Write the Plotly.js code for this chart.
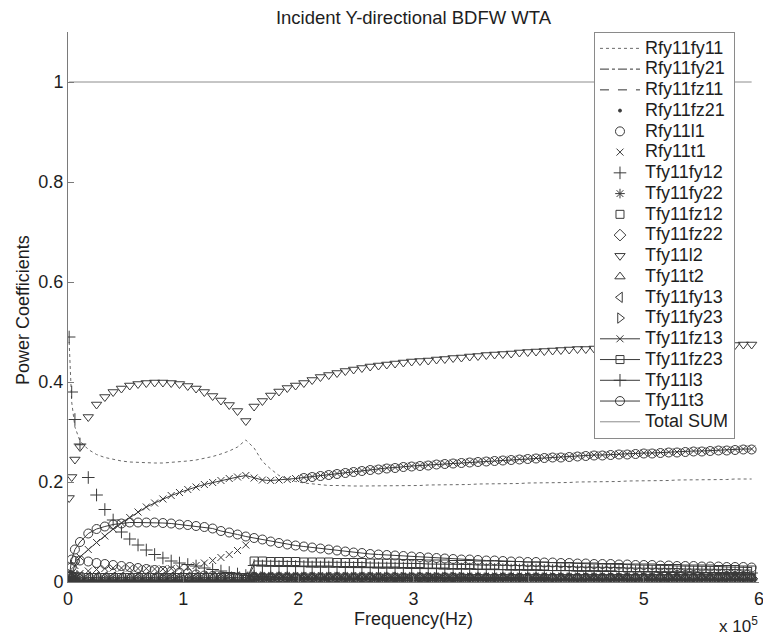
<!DOCTYPE html>
<html>
<head>
<meta charset="utf-8">
<script src="https://cdn.plot.ly/plotly-3.0.1.min.js"></script>
<style>
  html, body { margin: 0; padding: 0; background: #ffffff; }
  #chart { width: 763px; height: 639px; }
</style>
</head>
<body>
<div id="chart"></div>
<script>
// Frequency samples, in units of 10^5 Hz
const freq = [0.01, 0.032, 0.06, 0.104, 0.176, 0.248, 0.32, 0.392, 0.464, 0.536,
  0.608, 0.68, 0.752, 0.824, 0.896, 0.968, 1.04, 1.112, 1.184, 1.256,
  1.328, 1.4, 1.472, 1.544, 1.616, 1.688, 1.76, 1.832, 1.904, 1.976,
  2.048, 2.12, 2.192, 2.264, 2.336, 2.408, 2.48, 2.552, 2.624, 2.696,
  2.768, 2.84, 2.912, 2.984, 3.056, 3.128, 3.2, 3.272, 3.344, 3.416,
  3.488, 3.56, 3.632, 3.704, 3.776, 3.848, 3.92, 3.992, 4.064, 4.136,
  4.208, 4.28, 4.352, 4.424, 4.496, 4.568, 4.64, 4.712, 4.784, 4.856,
  4.928, 5.0, 5.072, 5.144, 5.216, 5.288, 5.36, 5.432, 5.504, 5.576,
  5.648, 5.72, 5.792, 5.864, 5.936];

const rfy11fy11 = [0.48, 0.36, 0.31, 0.282, 0.265, 0.255, 0.249, 0.245, 0.242, 0.240,
  0.239, 0.238, 0.238, 0.238, 0.239, 0.240, 0.242, 0.244, 0.247, 0.251,
  0.256, 0.262, 0.270, 0.284, 0.268, 0.241, 0.226, 0.213, 0.206, 0.201,
  0.198, 0.196, 0.194, 0.193, 0.193, 0.192, 0.192, 0.192, 0.192, 0.192,
  0.193, 0.193, 0.193, 0.193, 0.193, 0.194, 0.194, 0.194, 0.195, 0.195,
  0.195, 0.196, 0.196, 0.196, 0.197, 0.197, 0.197, 0.198, 0.198, 0.198,
  0.199, 0.199, 0.199, 0.200, 0.200, 0.200, 0.201, 0.201, 0.201, 0.202,
  0.202, 0.202, 0.203, 0.203, 0.203, 0.204, 0.204, 0.204, 0.204, 0.205,
  0.205, 0.205, 0.206, 0.206, 0.206];

const rfy11fy21 = [0, 0, 0, 0, 0, 0, 0, 0, 0, 0,
  0, 0, 0, 0, 0, 0, 0, 0, 0, 0,
  0, 0, 0, 0, 0.012, 0.011, 0.010, 0.010, 0.009, 0.009,
  0.009, 0.008, 0.008, 0.008, 0.008, 0.007, 0.007, 0.007, 0.007, 0.007,
  0.007, 0.006, 0.006, 0.006, 0.006, 0.006, 0.006, 0.006, 0.006, 0.006,
  0.005, 0.005, 0.005, 0.005, 0.005, 0.005, 0.005, 0.005, 0.005, 0.005,
  0.005, 0.005, 0.005, 0.005, 0.005, 0.005, 0.005, 0.005, 0.005, 0.005,
  0.005, 0.005, 0.004, 0.004, 0.004, 0.004, 0.004, 0.004, 0.004, 0.004,
  0.004, 0.004, 0.004, 0.004, 0.004];

const rfy11fz11 = [0.006, 0.005, 0.005, 0.004, 0.004, 0.004, 0.003, 0.003, 0.003, 0.003,
  0.003, 0.003, 0.003, 0.003, 0.003, 0.003, 0.003, 0.003, 0.003, 0.003,
  0.003, 0.003, 0.003, 0.004, 0.005, 0.005, 0.004, 0.004, 0.004, 0.004,
  0.004, 0.004, 0.004, 0.004, 0.004, 0.004, 0.004, 0.004, 0.004, 0.004,
  0.003, 0.003, 0.003, 0.003, 0.003, 0.003, 0.003, 0.003, 0.003, 0.003,
  0.003, 0.003, 0.003, 0.003, 0.003, 0.003, 0.003, 0.003, 0.003, 0.003,
  0.003, 0.003, 0.003, 0.003, 0.003, 0.003, 0.003, 0.003, 0.003, 0.003,
  0.003, 0.003, 0.003, 0.003, 0.003, 0.003, 0.003, 0.003, 0.003, 0.003,
  0.003, 0.003, 0.003, 0.003, 0.003];

const rfy11fz21 = [0, 0, 0, 0, 0, 0, 0, 0, 0, 0,
  0, 0, 0, 0, 0, 0, 0, 0, 0, 0,
  0, 0, 0, 0, 0.006, 0.006, 0.006, 0.006, 0.005, 0.005,
  0.005, 0.005, 0.005, 0.005, 0.005, 0.005, 0.005, 0.005, 0.005, 0.005,
  0.005, 0.005, 0.005, 0.005, 0.005, 0.005, 0.005, 0.005, 0.005, 0.005,
  0.004, 0.004, 0.004, 0.004, 0.004, 0.004, 0.004, 0.004, 0.004, 0.004,
  0.004, 0.004, 0.004, 0.004, 0.004, 0.004, 0.004, 0.004, 0.004, 0.004,
  0.004, 0.004, 0.004, 0.004, 0.004, 0.004, 0.004, 0.004, 0.004, 0.004,
  0.004, 0.004, 0.004, 0.004, 0.004];

const rfy11l1 = [0.010, 0.030, 0.042, 0.043, 0.041, 0.038, 0.036, 0.034, 0.032, 0.030,
  0.028, 0.026, 0.024, 0.022, 0.021, 0.019, 0.017, 0.015, 0.013, 0.012,
  0.011, 0.010, 0.009, 0.008, 0.010, 0.009, 0.009, 0.008, 0.008, 0.008,
  0.208, 0.210, 0.212, 0.214, 0.216, 0.218, 0.220, 0.222, 0.224, 0.225,
  0.227, 0.228, 0.230, 0.231, 0.232, 0.233, 0.235, 0.236, 0.237, 0.238,
  0.239, 0.240, 0.241, 0.242, 0.243, 0.244, 0.245, 0.246, 0.247, 0.248,
  0.249, 0.249, 0.250, 0.251, 0.252, 0.253, 0.253, 0.254, 0.255, 0.255,
  0.256, 0.257, 0.257, 0.258, 0.259, 0.259, 0.260, 0.261, 0.261, 0.262,
  0.263, 0.263, 0.264, 0.265, 0.265];

const rfy11t1 = [0.002, 0.008, 0.012, 0.017, 0.022, 0.025, 0.027, 0.028, 0.028, 0.028,
  0.027, 0.027, 0.026, 0.026, 0.027, 0.028, 0.030, 0.033, 0.038, 0.043,
  0.049, 0.055, 0.063, 0.074, 0.006, 0.005, 0.005, 0.004, 0.004, 0.004,
  0.004, 0.004, 0.004, 0.004, 0.004, 0.004, 0.004, 0.004, 0.004, 0.004,
  0.004, 0.004, 0.004, 0.004, 0.004, 0.004, 0.004, 0.004, 0.004, 0.004,
  0.003, 0.003, 0.003, 0.003, 0.003, 0.003, 0.003, 0.003, 0.003, 0.003,
  0.003, 0.003, 0.003, 0.003, 0.003, 0.003, 0.003, 0.003, 0.003, 0.003,
  0.003, 0.003, 0.003, 0.003, 0.003, 0.003, 0.003, 0.003, 0.003, 0.003,
  0.003, 0.003, 0.003, 0.003, 0.003];

const tfy11fy12 = [0.49, 0.38, 0.325, 0.276, 0.209, 0.174, 0.145, 0.124, 0.100, 0.086,
  0.074, 0.064, 0.055, 0.048, 0.042, 0.038, 0.035, 0.032, 0.028, 0.025,
  0.022, 0.019, 0.016, 0.013, 0.011, 0.010, 0.010, 0.009, 0.009, 0.009,
  0.008, 0.008, 0.008, 0.008, 0.008, 0.008, 0.008, 0.008, 0.008, 0.008,
  0.008, 0.008, 0.007, 0.007, 0.007, 0.007, 0.007, 0.007, 0.007, 0.007,
  0.007, 0.007, 0.007, 0.007, 0.007, 0.007, 0.007, 0.007, 0.007, 0.007,
  0.006, 0.006, 0.006, 0.006, 0.006, 0.006, 0.006, 0.006, 0.006, 0.006,
  0.006, 0.006, 0.006, 0.006, 0.006, 0.006, 0.006, 0.006, 0.006, 0.006,
  0.006, 0.006, 0.006, 0.006, 0.006];

const tfy11fy22 = [0, 0, 0, 0, 0, 0, 0, 0, 0, 0,
  0, 0, 0, 0, 0, 0, 0, 0, 0, 0,
  0, 0, 0, 0, 0.011, 0.011, 0.010, 0.010, 0.010, 0.010,
  0.010, 0.010, 0.010, 0.010, 0.010, 0.010, 0.010, 0.010, 0.010, 0.010,
  0.009, 0.009, 0.009, 0.009, 0.009, 0.009, 0.009, 0.009, 0.009, 0.009,
  0.009, 0.009, 0.009, 0.009, 0.009, 0.009, 0.009, 0.009, 0.009, 0.009,
  0.008, 0.008, 0.008, 0.008, 0.008, 0.008, 0.008, 0.008, 0.008, 0.008,
  0.008, 0.008, 0.008, 0.008, 0.008, 0.008, 0.008, 0.008, 0.008, 0.008,
  0.008, 0.008, 0.008, 0.008, 0.008];

const tfy11fz12 = [0.012, 0.011, 0.010, 0.010, 0.009, 0.009, 0.009, 0.009, 0.009, 0.009,
  0.009, 0.009, 0.009, 0.009, 0.009, 0.009, 0.009, 0.009, 0.009, 0.009,
  0.009, 0.009, 0.009, 0.009, 0.008, 0.008, 0.008, 0.008, 0.008, 0.008,
  0.008, 0.008, 0.008, 0.008, 0.008, 0.008, 0.008, 0.008, 0.008, 0.008,
  0.008, 0.008, 0.008, 0.008, 0.008, 0.008, 0.008, 0.008, 0.008, 0.008,
  0.007, 0.007, 0.007, 0.007, 0.007, 0.007, 0.007, 0.007, 0.007, 0.007,
  0.007, 0.007, 0.007, 0.007, 0.007, 0.007, 0.007, 0.007, 0.007, 0.007,
  0.007, 0.007, 0.007, 0.007, 0.007, 0.007, 0.007, 0.007, 0.007, 0.007,
  0.007, 0.007, 0.007, 0.007, 0.007];

const tfy11fz22 = [0, 0, 0, 0, 0, 0, 0, 0, 0, 0,
  0, 0, 0, 0, 0, 0, 0, 0, 0, 0,
  0, 0, 0, 0, 0.008, 0.008, 0.008, 0.008, 0.008, 0.008,
  0.008, 0.008, 0.008, 0.008, 0.008, 0.008, 0.008, 0.008, 0.008, 0.008,
  0.008, 0.008, 0.008, 0.008, 0.008, 0.008, 0.008, 0.008, 0.008, 0.008,
  0.007, 0.007, 0.007, 0.007, 0.007, 0.007, 0.007, 0.007, 0.007, 0.007,
  0.007, 0.007, 0.007, 0.007, 0.007, 0.007, 0.007, 0.007, 0.007, 0.007,
  0.007, 0.007, 0.007, 0.007, 0.007, 0.007, 0.007, 0.007, 0.007, 0.007,
  0.007, 0.007, 0.007, 0.007, 0.007];

const tfy11l2 = [0.168, 0.21, 0.245, 0.27, 0.33, 0.355, 0.37, 0.38, 0.387, 0.393,
  0.396, 0.398, 0.399, 0.399, 0.398, 0.396, 0.392, 0.387, 0.38, 0.372,
  0.363, 0.354, 0.342, 0.322, 0.351, 0.362, 0.373, 0.381, 0.388, 0.393,
  0.398, 0.404, 0.41, 0.414, 0.418, 0.422, 0.425, 0.428, 0.431, 0.433,
  0.435, 0.437, 0.439, 0.441, 0.442, 0.443, 0.445, 0.446, 0.448, 0.449,
  0.451, 0.452, 0.454, 0.455, 0.456, 0.457, 0.459, 0.46, 0.461, 0.462,
  0.463, 0.464, 0.465, 0.466, 0.466, 0.467, 0.468, 0.468, 0.469, 0.469,
  0.47, 0.47, 0.471, 0.471, 0.472, 0.472, 0.472, 0.473, 0.473, 0.473,
  0.474, 0.474, 0.474, 0.475, 0.475];

const tfy11t2 = [0.012, 0.010, 0.009, 0.008, 0.008, 0.008, 0.008, 0.008, 0.008, 0.008,
  0.008, 0.008, 0.008, 0.008, 0.008, 0.008, 0.008, 0.008, 0.008, 0.008,
  0.008, 0.008, 0.008, 0.008, 0.009, 0.009, 0.009, 0.009, 0.009, 0.009,
  0.009, 0.009, 0.009, 0.009, 0.009, 0.009, 0.009, 0.009, 0.009, 0.009,
  0.008, 0.008, 0.008, 0.008, 0.008, 0.008, 0.008, 0.008, 0.008, 0.008,
  0.008, 0.008, 0.008, 0.008, 0.008, 0.008, 0.008, 0.008, 0.008, 0.008,
  0.008, 0.008, 0.008, 0.008, 0.008, 0.008, 0.008, 0.008, 0.008, 0.008,
  0.008, 0.008, 0.008, 0.008, 0.008, 0.008, 0.008, 0.008, 0.008, 0.008,
  0.008, 0.008, 0.008, 0.008, 0.008];

const tfy11fy13 = [0.014, 0.012, 0.011, 0.010, 0.010, 0.010, 0.010, 0.010, 0.010, 0.010,
  0.010, 0.010, 0.010, 0.010, 0.010, 0.010, 0.010, 0.010, 0.010, 0.010,
  0.010, 0.010, 0.010, 0.010, 0.009, 0.009, 0.009, 0.009, 0.009, 0.009,
  0.009, 0.009, 0.009, 0.009, 0.009, 0.009, 0.009, 0.009, 0.009, 0.009,
  0.008, 0.008, 0.008, 0.008, 0.008, 0.008, 0.008, 0.008, 0.008, 0.008,
  0.008, 0.008, 0.008, 0.008, 0.008, 0.008, 0.008, 0.008, 0.008, 0.008,
  0.007, 0.007, 0.007, 0.007, 0.007, 0.007, 0.007, 0.007, 0.007, 0.007,
  0.007, 0.007, 0.007, 0.007, 0.007, 0.007, 0.007, 0.007, 0.007, 0.007,
  0.007, 0.007, 0.007, 0.007, 0.007];

const tfy11fy23 = [0, 0, 0, 0, 0, 0, 0, 0, 0, 0,
  0, 0, 0, 0, 0, 0, 0, 0, 0, 0,
  0, 0, 0, 0, 0.010, 0.010, 0.009, 0.009, 0.009, 0.009,
  0.009, 0.009, 0.009, 0.009, 0.009, 0.009, 0.009, 0.009, 0.009, 0.009,
  0.009, 0.009, 0.009, 0.009, 0.009, 0.009, 0.009, 0.009, 0.009, 0.009,
  0.008, 0.008, 0.008, 0.008, 0.008, 0.008, 0.008, 0.008, 0.008, 0.008,
  0.008, 0.008, 0.008, 0.008, 0.008, 0.008, 0.008, 0.008, 0.008, 0.008,
  0.008, 0.008, 0.008, 0.008, 0.008, 0.008, 0.008, 0.008, 0.008, 0.008,
  0.008, 0.008, 0.008, 0.008, 0.008];

const tfy11fz13 = [0.004, 0.018, 0.033, 0.05, 0.065, 0.079, 0.092, 0.106, 0.118, 0.129,
  0.14, 0.15, 0.158, 0.166, 0.173, 0.179, 0.185, 0.19, 0.195, 0.199,
  0.203, 0.207, 0.21, 0.213, 0.208, 0.204, 0.203, 0.204, 0.205, 0.207,
  0.209, 0.211, 0.213, 0.215, 0.217, 0.219, 0.221, 0.223, 0.225, 0.226,
  0.228, 0.229, 0.231, 0.232, 0.233, 0.234, 0.236, 0.237, 0.238, 0.239,
  0.24, 0.241, 0.242, 0.243, 0.244, 0.245, 0.246, 0.247, 0.248, 0.249,
  0.25, 0.25, 0.251, 0.252, 0.253, 0.254, 0.254, 0.255, 0.256, 0.256,
  0.257, 0.258, 0.258, 0.259, 0.26, 0.26, 0.261, 0.262, 0.262, 0.263,
  0.264, 0.264, 0.265, 0.266, 0.266];

const tfy11fz23 = [0, 0, 0, 0, 0, 0, 0, 0, 0, 0,
  0, 0, 0, 0, 0, 0, 0, 0, 0, 0,
  0, 0, 0, 0, 0.042, 0.042, 0.041, 0.041, 0.041, 0.041,
  0.040, 0.040, 0.040, 0.040, 0.039, 0.039, 0.039, 0.039, 0.038, 0.038,
  0.038, 0.038, 0.037, 0.037, 0.037, 0.036, 0.036, 0.036, 0.035, 0.035,
  0.035, 0.034, 0.034, 0.034, 0.033, 0.033, 0.033, 0.032, 0.032, 0.032,
  0.031, 0.031, 0.031, 0.030, 0.030, 0.030, 0.029, 0.029, 0.029, 0.028,
  0.028, 0.028, 0.028, 0.027, 0.027, 0.027, 0.026, 0.026, 0.026, 0.026,
  0.025, 0.025, 0.025, 0.024, 0.024];

const tfy11l3 = [0.003, 0.003, 0.003, 0.003, 0.003, 0.003, 0.003, 0.003, 0.003, 0.003,
  0.003, 0.003, 0.003, 0.003, 0.003, 0.003, 0.003, 0.003, 0.003, 0.003,
  0.003, 0.003, 0.003, 0.003, 0.033, 0.032, 0.032, 0.031, 0.031, 0.031,
  0.031, 0.030, 0.030, 0.030, 0.030, 0.029, 0.029, 0.029, 0.029, 0.028,
  0.028, 0.028, 0.028, 0.027, 0.027, 0.027, 0.027, 0.026, 0.026, 0.026,
  0.026, 0.025, 0.025, 0.025, 0.025, 0.024, 0.024, 0.024, 0.024, 0.023,
  0.023, 0.023, 0.023, 0.022, 0.022, 0.022, 0.022, 0.022, 0.021, 0.021,
  0.021, 0.021, 0.021, 0.020, 0.020, 0.020, 0.020, 0.020, 0.019, 0.019,
  0.019, 0.019, 0.019, 0.019, 0.018];

const tfy11t3 = [0.01, 0.045, 0.065, 0.08, 0.097, 0.106, 0.111, 0.115, 0.117, 0.119,
  0.119, 0.119, 0.119, 0.118, 0.117, 0.115, 0.114, 0.112, 0.110, 0.107,
  0.102, 0.099, 0.095, 0.091, 0.088, 0.085, 0.081, 0.078, 0.075, 0.073,
  0.071, 0.069, 0.067, 0.065, 0.063, 0.061, 0.059, 0.058, 0.056, 0.055,
  0.054, 0.053, 0.052, 0.051, 0.050, 0.049, 0.048, 0.047, 0.046, 0.045,
  0.045, 0.044, 0.043, 0.043, 0.042, 0.041, 0.041, 0.040, 0.040, 0.039,
  0.039, 0.038, 0.038, 0.037, 0.037, 0.036, 0.036, 0.036, 0.035, 0.035,
  0.034, 0.034, 0.034, 0.033, 0.033, 0.032, 0.032, 0.032, 0.031, 0.031,
  0.031, 0.030, 0.030, 0.030, 0.029];

const totalSum = [1, 1, 1, 1, 1, 1, 1, 1, 1, 1,
  1, 1, 1, 1, 1, 1, 1, 1, 1, 1,
  1, 1, 1, 1, 1, 1, 1, 1, 1, 1,
  1, 1, 1, 1, 1, 1, 1, 1, 1, 1,
  1, 1, 1, 1, 1, 1, 1, 1, 1, 1,
  1, 1, 1, 1, 1, 1, 1, 1, 1, 1,
  1, 1, 1, 1, 1, 1, 1, 1, 1, 1,
  1, 1, 1, 1, 1, 1, 1, 1, 1, 1,
  1, 1, 1, 1, 1];

const xTicks = [0, 1, 2, 3, 4, 5, 6];
const yTicks = [0, 0.2, 0.4, 0.6, 0.8, 1];
const yTickText = ['0', '0.2', '0.4', '0.6', '0.8', '1'];

const FONT = 'Liberation Sans, Arial, Helvetica, sans-serif';
const INK = '#1e1e1e';
const MARK = '#3a3a3a';
const LINE = '#6a6a6a';

function label(name) {
  return '<span style="font-size:18px">' + name + '</span>';
}
function markers(name, y, symbol, size) {
  return {
    type: 'scatter', mode: 'markers', x: freq, y: y, name: label(name),
    marker: { symbol: symbol, size: size, color: MARK, line: { color: MARK, width: 1 } }
  };
}
function line(name, y, dash, color) {
  return {
    type: 'scatter', mode: 'lines', x: freq, y: y, name: label(name),
    line: { color: color, width: 1, dash: dash }
  };
}
function lineMarkers(name, y, symbol, size) {
  return {
    type: 'scatter', mode: 'lines+markers', x: freq, y: y, name: label(name),
    line: { color: MARK, width: 1 },
    marker: { symbol: symbol, size: size, color: MARK, line: { color: MARK, width: 1 } }
  };
}

const traces = [
  line('Rfy11fy11', rfy11fy11, 'dot', LINE),
  line('Rfy11fy21', rfy11fy21, 'dashdot', '#333333'),
  line('Rfy11fz11', rfy11fz11, 'dash', '#333333'),
  markers('Rfy11fz21', rfy11fz21, 'circle', 3),
  markers('Rfy11l1', rfy11l1, 'circle-open', 9),
  markers('Rfy11t1', rfy11t1, 'x-thin-open', 7),
  markers('Tfy11fy12', tfy11fy12, 'cross-thin-open', 9),
  markers('Tfy11fy22', tfy11fy22, 'asterisk-open', 8),
  markers('Tfy11fz12', tfy11fz12, 'square-open', 8),
  markers('Tfy11fz22', tfy11fz22, 'diamond-open', 9),
  markers('Tfy11l2', tfy11l2, 'triangle-down-open', 9),
  markers('Tfy11t2', tfy11t2, 'triangle-up-open', 9),
  markers('Tfy11fy13', tfy11fy13, 'triangle-left-open', 9),
  markers('Tfy11fy23', tfy11fy23, 'triangle-right-open', 9),
  lineMarkers('Tfy11fz13', tfy11fz13, 'x-thin-open', 7),
  lineMarkers('Tfy11fz23', tfy11fz23, 'square-open', 8),
  lineMarkers('Tfy11l3', tfy11l3, 'cross-thin-open', 9),
  lineMarkers('Tfy11t3', tfy11t3, 'circle-open', 9),
  line('Total SUM', totalSum, 'solid', '#8c8c8c')
];

const axisBase = {
  showline: true, linecolor: '#7a7a7a', linewidth: 1,
  ticks: 'inside', ticklen: 6, tickcolor: '#7a7a7a', tickwidth: 1,
  showgrid: false, zeroline: false, mirror: false,
  tickfont: { family: FONT, size: 18, color: INK },
  ticklabeloverflow: 'allow',
  fixedrange: true
};

const layout = {
  width: 763, height: 639,
  margin: { l: 68, r: 4, t: 32, b: 57, autoexpand: false },
  paper_bgcolor: '#ffffff', plot_bgcolor: '#ffffff',
  font: { family: FONT, size: 18, color: INK },
  showlegend: true,
  title: {
    text: 'Incident Y-directional BDFW WTA',
    font: { family: FONT, size: 18.5, color: INK },
    xref: 'paper', x: 0.5, xanchor: 'center',
    yref: 'container', y: 1 - 18 / 639, yanchor: 'middle'
  },
  xaxis: Object.assign({}, axisBase, { range: [0, 6], tickvals: xTicks }),
  yaxis: Object.assign({}, axisBase, { range: [0, 1.1], tickvals: yTicks, ticktext: yTickText }),
  legend: {
    x: 0.7612, y: 1, xanchor: 'left', yanchor: 'top',
    bgcolor: '#ffffff', bordercolor: '#8a8a8a', borderwidth: 1,
    font: { family: FONT, size: 13.65, color: INK },
    itemwidth: 40, tracegroupgap: 0
  },
  annotations: [
    { text: 'Power Coefficients', xref: 'paper', yref: 'paper',
      x: -0.0644, y: 0.4955, xanchor: 'center', yanchor: 'middle',
      textangle: -90, showarrow: false, font: { family: FONT, size: 18, color: INK } },
    { text: 'Frequency(Hz)', xref: 'paper', yref: 'paper',
      x: 0.4993, y: -0.0664, xanchor: 'center', yanchor: 'middle',
      showarrow: false, font: { family: FONT, size: 18, color: INK } },
    { text: 'x 10<sup>5</sup>', xref: 'paper', yref: 'paper',
      x: 1.0014, y: -0.079, xanchor: 'right', yanchor: 'middle',
      showarrow: false, font: { family: FONT, size: 17, color: INK } }
  ],
  hovermode: false
};

Plotly.newPlot('chart', traces, layout, { displayModeBar: false, staticPlot: true });
</script>
</body>
</html>
